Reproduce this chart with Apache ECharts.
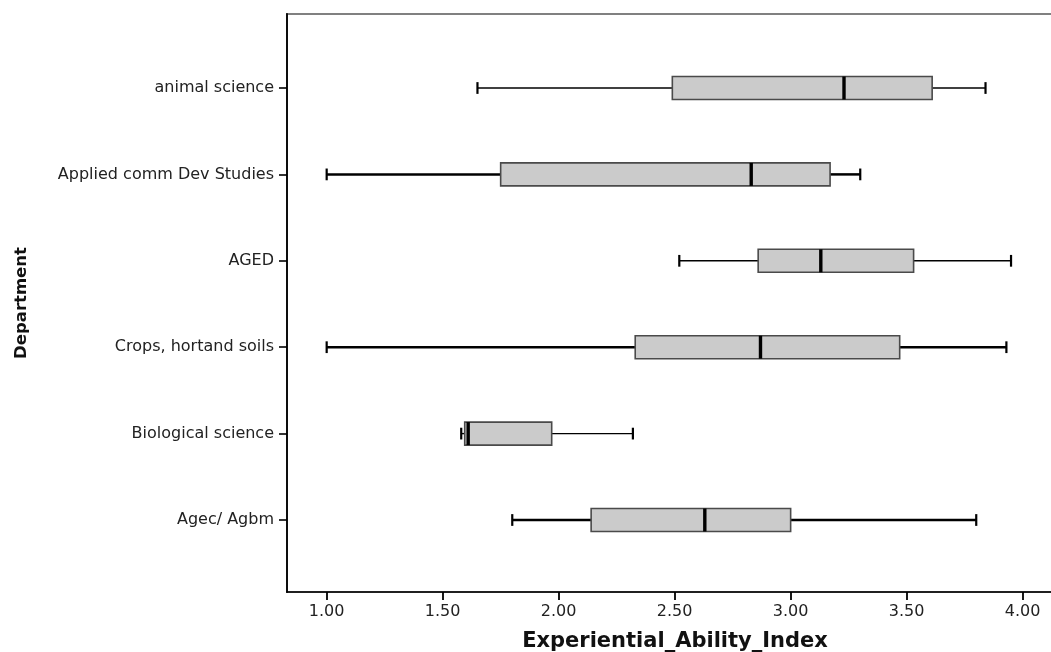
<!DOCTYPE html>
<html>
<head>
<meta charset="utf-8">
<title>Experiential Ability Index by Department</title>
<script src="https://cdn.jsdelivr.net/npm/echarts@6/dist/echarts.min.js"></script>
<style>
  html, body { margin: 0; padding: 0; background: #ffffff; overflow: hidden; }
  #chart { width: 1051px; height: 652px; }
</style>
</head>
<body>
<div id="chart"></div>
<script>
// Departments, top to bottom
const categories = [
  'animal science',
  'Applied comm Dev Studies',
  'AGED',
  'Crops, hortand soils',
  'Biological science',
  'Agec/ Agbm'
];

// Five-number summaries of Experiential_Ability_Index per department
const lowWhisker  = [1.65, 1.00, 2.52, 1.00, 1.58, 1.80];
const quartile1   = [2.49, 1.75, 2.86, 2.33, 1.595, 2.14];
const medians     = [3.23, 2.83, 3.13, 2.87, 1.61, 2.63];
const quartile3   = [3.61, 3.17, 3.53, 3.47, 1.97, 3.00];
const highWhisker = [3.84, 3.30, 3.95, 3.93, 2.32, 3.80];

// Value-axis tick labels
const tickValues = [1.00, 1.50, 2.00, 2.50, 3.00, 3.50, 4.00];

// Whisker stroke weights per department row
const whiskerWidth = [1.4, 2.5, 1.4, 2.5, 1.4, 2.3];

const boxData = categories.map((c, i) => [
  i, lowWhisker[i], quartile1[i], medians[i], quartile3[i], highWhisker[i]
]);

const FONT = '"DejaVu Sans", "Liberation Sans", Arial, sans-serif';
const X_MIN = 0.829;
const X_MAX = 4.174;

function renderBox(params, api) {
  const idx = api.value(0);
  const p = [1, 2, 3, 4, 5].map(d => api.coord([api.value(d), idx]));
  const y = p[0][1];
  const band = api.size([0, 1])[1];
  const half = band * 0.133;
  const cap = band * 0.068;
  const ww = whiskerWidth[params.dataIndex];
  const ink = '#000000';
  return {
    type: 'group',
    children: [
      { type: 'line', shape: { x1: p[0][0], y1: y, x2: p[1][0], y2: y },
        style: { stroke: ink, lineWidth: ww } },
      { type: 'line', shape: { x1: p[3][0], y1: y, x2: p[4][0], y2: y },
        style: { stroke: ink, lineWidth: ww } },
      { type: 'line', shape: { x1: p[0][0], y1: y - cap, x2: p[0][0], y2: y + cap },
        style: { stroke: ink, lineWidth: 2.2 } },
      { type: 'line', shape: { x1: p[4][0], y1: y - cap, x2: p[4][0], y2: y + cap },
        style: { stroke: ink, lineWidth: 2.2 } },
      { type: 'rect',
        shape: { x: p[1][0], y: y - half, width: p[3][0] - p[1][0], height: half * 2 },
        style: { fill: '#cbcbcb', stroke: '#4a4a4a', lineWidth: 1.6 } },
      { type: 'line', shape: { x1: p[2][0], y1: y - half, x2: p[2][0], y2: y + half },
        style: { stroke: '#000000', lineWidth: 3.4 } }
    ]
  };
}

const chart = echarts.init(document.getElementById('chart'), null, { renderer: 'canvas' });

chart.setOption({
  backgroundColor: '#ffffff',
  animation: false,
  grid: [
    // outer frame with the value scale; it runs past the right edge of the canvas
    { left: 287, top: 14, width: 776, bottom: 60, show: true,
      outerBoundsMode: 'none', containLabel: false,
      borderColor: '#808080', borderWidth: 2, backgroundColor: 'transparent' },
    // inner band area holding the department rows
    { left: 287, top: 44.8, width: 776, bottom: 88.8,
      outerBoundsMode: 'none', containLabel: false }
  ],
  xAxis: [
    {
      gridIndex: 0, type: 'value', min: X_MIN, max: X_MAX,
      name: 'Experiential_Ability_Index',
      nameLocation: 'middle', nameGap: 39,
      nameTextStyle: { fontFamily: FONT, fontSize: 21, fontWeight: 'bold', color: '#111111' },
      axisLine: { show: true, lineStyle: { color: '#000000', width: 1.6 } },
      axisTick: { show: true, length: 8, customValues: tickValues,
        lineStyle: { color: '#000000', width: 1.8 } },
      axisLabel: { show: true, customValues: tickValues, margin: 12,
        formatter: v => Number(v).toFixed(2),
        fontFamily: FONT, fontSize: 16, color: '#222222' },
      splitLine: { show: false }
    },
    {
      gridIndex: 1, type: 'value', min: X_MIN, max: X_MAX, show: false
    }
  ],
  yAxis: [
    {
      gridIndex: 0, type: 'value', min: 0, max: 1,
      name: 'Department',
      nameLocation: 'middle', nameRotate: 90, nameGap: 257,
      nameTextStyle: { fontFamily: FONT, fontSize: 16.5, fontWeight: 'bold', color: '#111111' },
      axisLine: { show: true, lineStyle: { color: '#000000', width: 1.8 } },
      axisTick: { show: false },
      axisLabel: { show: false },
      splitLine: { show: false }
    },
    {
      gridIndex: 1, type: 'category', data: categories, inverse: true,
      axisLine: { show: false },
      axisTick: { show: true, alignWithLabel: true, length: 8,
        lineStyle: { color: '#000000', width: 1.6 } },
      axisLabel: { margin: 13, fontFamily: FONT, fontSize: 16, color: '#222222' },
      splitLine: { show: false }
    }
  ],
  series: [
    {
      type: 'custom',
      xAxisIndex: 1,
      yAxisIndex: 1,
      renderItem: renderBox,
      encode: { x: [1, 2, 3, 4, 5], y: 0 },
      data: boxData
    }
  ]
});
</script>
</body>
</html>
